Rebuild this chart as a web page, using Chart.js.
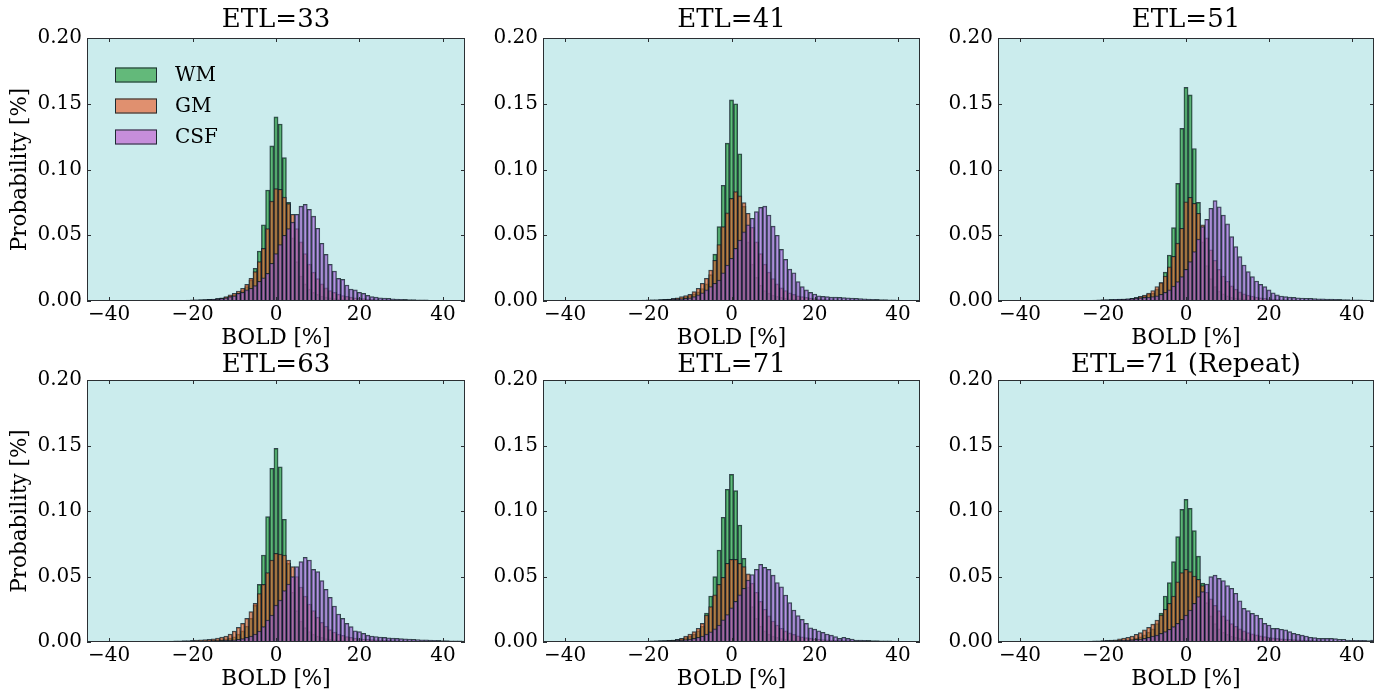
<!DOCTYPE html>
<html><head><meta charset="utf-8">
<script src="https://cdn.jsdelivr.net/npm/chart.js@4.4.1/dist/chart.umd.min.js"></script>
<style>
html,body{margin:0;padding:0;background:#fff;}
body{width:1384px;height:694px;position:relative;overflow:hidden;}
canvas{position:absolute;}
</style></head><body>
<canvas id="c0"></canvas><canvas id="c1"></canvas><canvas id="c2"></canvas>
<canvas id="c3"></canvas><canvas id="c4"></canvas><canvas id="c5"></canvas>
<script>
// Bin centres (BOLD %), width 1
const BINS = [-30,-29,-28,-27,-26,-25,-24,-23,-22,-21,
-20,-19,-18,-17,-16,-15,-14,-13,-12,-11,
-10,-9,-8,-7,-6,-5,-4,-3,-2,-1,
0,1,2,3,4,5,6,7,8,9,
10,11,12,13,14,15,16,17,18,19,
20,21,22,23,24,25,26,27,28,29,
30,31,32,33,34,35,36,37,38,39,
40,41,42,43,44,45];
const X_TICKS = [-40,-20,0,20,40];
const Y_TICKS = [0,0.05,0.10,0.15,0.20];
const SERIES_NAMES = ['WM','GM','CSF'];
const TITLES = ['ETL=33','ETL=41','ETL=51','ETL=63','ETL=71','ETL=71 (Repeat)'];

// ETL=33
const wm33 = [0,0,0,0,0,0.0002,0.0002,0.0003,0.0003,0.0004,
0.0005,0.0006,0.0007,0.0008,0.001,0.0012,0.0015,0.002,0.0027,0.0035,
0.0045,0.006,0.008,0.011,0.016,0.0249,0.038,0.058,0.0844,0.118,
0.140,0.1346,0.109,0.075,0.048,0.030,0.019,0.013,0.009,0.0065,
0.005,0.0038,0.003,0.0024,0.0019,0.0015,0.0012,0.001,0.0008,0.0007,
0.0006,0.0005,0.0004,0.0003,0.0003,0.0002,0.0002,0.0002,0.0001,0.0001,
0,0,0,0,0,0,0,0,0,0,
0,0,0,0,0,0];
const gm33 = [0,0,0,0,0.0002,0.0003,0.0003,0.0004,0.0005,0.0006,
0.0007,0.0008,0.0009,0.001,0.0012,0.0015,0.002,0.0025,0.0033,0.0046,
0.0058,0.0076,0.0097,0.0127,0.0172,0.0223,0.030,0.040,0.055,0.076,
0.0854,0.085,0.079,0.074,0.066,0.055,0.045,0.036,0.028,0.022,
0.017,0.013,0.010,0.008,0.0065,0.0052,0.0042,0.0035,0.003,0.0025,
0.0021,0.0018,0.0015,0.0013,0.0011,0.001,0.0009,0.0008,0.0007,0.0006,
0.0005,0.0004,0.0004,0.0003,0.0003,0.0002,0.0002,0.0001,0.0001,0.0001,
0,0,0,0,0,0];
const csf33 = [0,0,0,0,0.0002,0.0003,0.0004,0.0005,0.0006,0.0007,
0.0008,0.0009,0.001,0.0011,0.0012,0.0013,0.0015,0.002,0.0025,0.0033,
0.004,0.0058,0.0066,0.0084,0.0097,0.0117,0.015,0.0177,0.021,0.0287,
0.036,0.043,0.050,0.055,0.060,0.066,0.0722,0.0735,0.0697,0.0646,
0.0553,0.0439,0.0355,0.0279,0.0228,0.0172,0.0165,0.0122,0.0091,0.0084,
0.0066,0.0058,0.0043,0.0033,0.003,0.0025,0.0022,0.002,0.0017,0.0015,
0.0013,0.0012,0.001,0.001,0.0009,0.0008,0.0008,0.0005,0.0004,0.0003,
0.0002,0.0001,0.0001,0.0001,0,0];

// ETL=41
const wm41 = [0,0,0,0,0,0.0002,0.0002,0.0003,0.0003,0.0004,
0.0005,0.0006,0.0007,0.0008,0.001,0.0012,0.0015,0.002,0.0025,0.0033,
0.0042,0.0055,0.007,0.0095,0.013,0.020,0.0357,0.0565,0.088,0.120,
0.153,0.150,0.112,0.072,0.045,0.028,0.018,0.012,0.008,0.006,
0.0045,0.0035,0.0027,0.002,0.0016,0.0013,0.001,0.0008,0.0007,0.0006,
0.0005,0.0004,0.0003,0.0003,0.0002,0.0002,0.0001,0.0001,0.0001,0.0001,
0,0,0,0,0,0,0,0,0,0,
0,0,0,0,0,0];
const gm41 = [0,0,0,0,0.0002,0.0003,0.0003,0.0004,0.0005,0.0006,
0.0006,0.0008,0.0009,0.001,0.0012,0.0015,0.002,0.0025,0.0033,0.0042,
0.005,0.0071,0.0097,0.0135,0.0173,0.0236,0.031,0.043,0.0565,0.067,
0.078,0.0832,0.080,0.0748,0.0667,0.056,0.045,0.036,0.028,0.022,
0.017,0.013,0.010,0.008,0.0063,0.005,0.004,0.0033,0.0027,0.0022,
0.0018,0.0015,0.0013,0.0011,0.001,0.0009,0.0008,0.0007,0.0006,0.0005,
0.0004,0.0004,0.0003,0.0003,0.0002,0.0002,0.0002,0.0001,0.0001,0.0001,
0,0,0,0,0,0];
const csf41 = [0,0,0,0.0002,0.0003,0.0003,0.0004,0.0005,0.0006,0.0007,
0.0008,0.0009,0.0009,0.001,0.0011,0.0012,0.0013,0.0015,0.0017,0.002,
0.0025,0.0033,0.0046,0.0063,0.0084,0.011,0.0135,0.016,0.0215,0.0274,
0.0325,0.040,0.0464,0.0526,0.058,0.0629,0.068,0.0712,0.0722,0.0654,
0.057,0.050,0.0393,0.0317,0.0243,0.0215,0.0147,0.0109,0.0084,0.0066,
0.0053,0.004,0.0035,0.0033,0.003,0.003,0.0028,0.0026,0.0024,0.0022,
0.002,0.0018,0.0016,0.0015,0.0013,0.0012,0.001,0.001,0.0009,0.0008,
0.0007,0.0006,0.0005,0.0004,0.0003,0.0003];

// ETL=51
const wm51 = [0,0,0,0,0,0.0002,0.0002,0.0003,0.0003,0.0004,
0.0005,0.0006,0.0007,0.0008,0.001,0.0012,0.0014,0.0018,0.0023,0.003,
0.004,0.0052,0.006,0.009,0.014,0.022,0.035,0.0558,0.0895,0.1313,
0.1625,0.1567,0.116,0.075,0.045,0.027,0.017,0.011,0.0075,0.0055,
0.004,0.003,0.0023,0.0018,0.0014,0.0011,0.0009,0.0007,0.0006,0.0005,
0.0004,0.0003,0.0003,0.0002,0.0002,0.0001,0.0001,0.0001,0,0,
0,0,0,0,0,0,0,0,0,0,
0,0,0,0,0,0];
const gm51 = [0,0,0,0,0.0002,0.0003,0.0003,0.0004,0.0005,0.0006,
0.0007,0.0008,0.0009,0.001,0.0012,0.0014,0.0017,0.002,0.0027,0.0035,
0.0045,0.006,0.008,0.011,0.014,0.019,0.026,0.034,0.044,0.0553,
0.0755,0.0789,0.0743,0.0667,0.058,0.048,0.039,0.031,0.024,0.019,
0.015,0.0115,0.009,0.007,0.0055,0.0045,0.0037,0.003,0.0025,0.002,
0.0017,0.0015,0.0013,0.0011,0.001,0.0009,0.0008,0.0007,0.0006,0.0005,
0.0004,0.0004,0.0003,0.0003,0.0002,0.0002,0.0002,0.0001,0.0001,0.0001,
0,0,0,0,0,0];
const csf51 = [0,0,0,0.0002,0.0003,0.0004,0.0005,0.0006,0.0007,0.0008,
0.001,0.0011,0.0012,0.0013,0.0014,0.0015,0.0017,0.0019,0.0022,0.0025,
0.0028,0.003,0.0034,0.004,0.0051,0.0066,0.0084,0.0114,0.0147,0.0185,
0.024,0.030,0.0375,0.047,0.0565,0.0621,0.0705,0.0763,0.0717,0.0654,
0.0586,0.0489,0.0413,0.0337,0.0274,0.0223,0.0185,0.0152,0.0127,0.0109,
0.0084,0.0063,0.0046,0.0038,0.0033,0.003,0.0027,0.0025,0.0023,0.0021,
0.002,0.0018,0.0017,0.0016,0.0015,0.0014,0.0013,0.0012,0.0011,0.001,
0.0009,0.0008,0.0008,0.0007,0.0006,0.0005];

// ETL=63
const wm63 = [0,0,0,0,0.0002,0.0002,0.0003,0.0003,0.0004,0.0005,
0.0006,0.0007,0.0008,0.0009,0.001,0.0012,0.0015,0.0019,0.0024,0.003,
0.004,0.006,0.0085,0.012,0.018,0.028,0.044,0.0664,0.0957,0.1326,
0.1478,0.1338,0.0937,0.060,0.038,0.024,0.016,0.011,0.008,0.006,
0.0045,0.0035,0.0027,0.002,0.0016,0.0013,0.001,0.0008,0.0007,0.0006,
0.0005,0.0004,0.0003,0.0003,0.0002,0.0002,0.0001,0.0001,0.0001,0.0001,
0,0,0,0,0,0,0,0,0,0,
0,0,0,0,0,0];
const gm63 = [0.0002,0.0003,0.0004,0.0005,0.0006,0.0007,0.0008,0.0009,0.001,0.0011,
0.0012,0.0014,0.0016,0.0018,0.002,0.0024,0.0029,0.0037,0.0046,0.0061,
0.0084,0.0112,0.0142,0.018,0.0232,0.0295,0.037,0.044,0.0529,0.0626,
0.0677,0.0672,0.0664,0.0626,0.0575,0.050,0.042,0.035,0.029,0.024,
0.019,0.015,0.012,0.0095,0.0076,0.006,0.005,0.0042,0.0036,0.003,
0.0026,0.0023,0.002,0.0018,0.0016,0.0014,0.0013,0.0012,0.0011,0.001,
0.0009,0.0008,0.0007,0.0007,0.0006,0.0005,0.0005,0.0004,0.0004,0.0003,
0.0003,0.0002,0.0002,0.0002,0.0001,0.0001];
const csf63 = [0,0,0.0002,0.0002,0.0003,0.0003,0.0004,0.0004,0.0005,0.0005,
0.0006,0.0007,0.0007,0.0008,0.0009,0.001,0.0011,0.0012,0.0013,0.0014,
0.0016,0.002,0.0026,0.0036,0.0046,0.0061,0.0084,0.0117,0.0168,0.0206,
0.0282,0.032,0.0392,0.0443,0.0499,0.0575,0.0613,0.0646,0.0626,0.0555,
0.0537,0.0468,0.0402,0.0341,0.0275,0.0214,0.018,0.0142,0.0117,0.0086,
0.0079,0.0066,0.0053,0.0046,0.0042,0.0038,0.0035,0.0032,0.003,0.0028,
0.0026,0.0024,0.0022,0.002,0.0019,0.0017,0.0016,0.0015,0.0013,0.0012,
0.0011,0.001,0.0009,0.0008,0.0008,0.0007];

// ETL=71
const wm71 = [0,0,0,0,0.0002,0.0002,0.0003,0.0003,0.0004,0.0005,
0.0006,0.0007,0.0008,0.0009,0.001,0.0012,0.0015,0.0019,0.0025,0.0033,
0.0045,0.006,0.0085,0.012,0.022,0.0351,0.0499,0.0702,0.0952,0.1166,
0.128,0.1155,0.0893,0.0639,0.042,0.027,0.018,0.012,0.0085,0.006,
0.0045,0.0035,0.0027,0.002,0.0016,0.0013,0.001,0.0008,0.0007,0.0006,
0.0005,0.0004,0.0003,0.0003,0.0002,0.0002,0.0001,0.0001,0.0001,0.0001,
0,0,0,0,0,0,0,0,0,0,
0,0,0,0,0,0];
const gm71 = [0.0002,0.0002,0.0003,0.0003,0.0004,0.0004,0.0005,0.0005,0.0006,0.0006,
0.0007,0.0008,0.0009,0.001,0.0011,0.0013,0.0015,0.002,0.0028,0.0046,
0.0061,0.0079,0.0105,0.0142,0.0206,0.027,0.036,0.044,0.0494,0.0601,
0.0631,0.0631,0.060,0.0575,0.052,0.045,0.038,0.031,0.025,0.020,
0.016,0.013,0.0105,0.0085,0.007,0.0058,0.0048,0.004,0.0034,0.0029,
0.0025,0.0022,0.0019,0.0017,0.0015,0.0013,0.0012,0.0011,0.001,0.0009,
0.0008,0.0007,0.0007,0.0006,0.0005,0.0005,0.0004,0.0004,0.0003,0.0003,
0.0003,0.0002,0.0002,0.0002,0.0001,0.0001];
const csf71 = [0,0,0.0002,0.0002,0.0003,0.0003,0.0004,0.0004,0.0005,0.0005,
0.0005,0.0006,0.0007,0.0008,0.0009,0.001,0.0011,0.0013,0.0015,0.0018,
0.0022,0.0028,0.0036,0.0046,0.006,0.0078,0.010,0.013,0.017,0.021,
0.026,0.031,0.036,0.041,0.0473,0.0515,0.0555,0.0593,0.057,0.0555,
0.0511,0.0453,0.0422,0.0359,0.030,0.0244,0.0201,0.0173,0.0142,0.0109,
0.0099,0.0086,0.0074,0.0061,0.0053,0.0041,0.0028,0.0036,0.0028,0.0023,
0.0015,0.0015,0.0013,0.0012,0.0011,0.001,0.0009,0.0008,0.0008,0.0007,
0.0006,0.0006,0.0005,0.0004,0.0004,0.0003];

// ETL=71 (Repeat)
const wm71r = [0,0,0,0.0002,0.0002,0.0003,0.0003,0.0004,0.0005,0.0006,
0.0007,0.0008,0.0009,0.001,0.0012,0.0014,0.0017,0.0021,0.003,0.004,
0.0055,0.0075,0.010,0.014,0.022,0.0351,0.0453,0.0613,0.0804,0.1013,
0.1089,0.102,0.085,0.0656,0.045,0.030,0.020,0.014,0.010,0.0075,
0.0058,0.0045,0.0035,0.0028,0.0022,0.0018,0.0015,0.0012,0.001,0.0008,
0.0007,0.0006,0.0005,0.0004,0.0003,0.0003,0.0002,0.0002,0.0001,0.0001,
0,0,0,0,0,0,0,0,0,0,
0,0,0,0,0,0];
const gm71r = [0.0002,0.0002,0.0003,0.0003,0.0004,0.0005,0.0006,0.0007,0.0008,0.0009,
0.001,0.0012,0.0014,0.0017,0.0025,0.003,0.0036,0.0046,0.0059,0.0071,
0.0092,0.0112,0.0137,0.0168,0.0206,0.025,0.0295,0.0351,0.046,0.0529,
0.0555,0.0537,0.0504,0.0478,0.043,0.038,0.033,0.028,0.024,0.020,
0.017,0.014,0.012,0.010,0.0085,0.0072,0.0062,0.0054,0.0047,0.0041,
0.0036,0.0032,0.0028,0.0025,0.0022,0.002,0.0018,0.0016,0.0014,0.0013,
0.0012,0.0011,0.001,0.0009,0.0008,0.0007,0.0007,0.0006,0.0005,0.0005,
0.0004,0.0004,0.0003,0.0003,0.0002,0.0002];
const csf71r = [0,0.0002,0.0002,0.0003,0.0003,0.0004,0.0004,0.0005,0.0006,0.0007,
0.0008,0.0009,0.001,0.0011,0.0012,0.0013,0.0015,0.0017,0.002,0.0023,
0.0028,0.0036,0.0046,0.0053,0.0066,0.0079,0.0097,0.0117,0.0142,0.0173,
0.0206,0.0244,0.0295,0.0346,0.0384,0.0443,0.0499,0.0511,0.0486,0.0468,
0.043,0.041,0.0372,0.0315,0.0257,0.0239,0.0219,0.0206,0.0181,0.0142,
0.013,0.0104,0.0104,0.0097,0.0092,0.0079,0.0066,0.0059,0.0053,0.0046,
0.0036,0.0033,0.0028,0.0028,0.0028,0.0028,0.0026,0.0021,0.0021,0.0015,
0.0013,0.0013,0.0013,0.0013,0.0011,0.0015];

const PANEL_DATA = [
  [wm33, gm33, csf33], [wm41, gm41, csf41], [wm51, gm51, csf51],
  [wm63, gm63, csf63], [wm71, gm71, csf71], [wm71r, gm71r, csf71r]
];

// ---- styling ----
const FONT = "'DejaVu Serif', 'Liberation Serif', serif";
const AX_BG = 'rgb(203,236,237)';
const FILLS = ['rgba(29,151,52,0.6)', 'rgba(226,100,45,0.6)', 'rgba(160,96,212,0.6)'];
const LEGEND_FILLS = ['rgb(99,185,122)', 'rgb(224,144,111)', 'rgb(198,142,219)'];
const EDGE = 'rgba(12,28,36,0.8)';
const FRAME = '#2a2f33';

const LAYOUT = [
  {left:0,   top:0,   w:470, h:350, yBox:87, padR:5},
  {left:470, top:0,   w:455, h:350, yBox:73, padR:5},
  {left:925, top:0,   w:459, h:350, yBox:73, padR:10},
  {left:0,   top:350, w:470, h:344, yBox:87, padR:5},
  {left:470, top:350, w:455, h:344, yBox:73, padR:5},
  {left:925, top:350, w:459, h:344, yBox:73, padR:10}
];
const ROW = [
  {padTop:38, titleY:20, xBox:49, xTitleBottom:1},
  {padTop:30, titleY:15, xBox:52, xTitleBottom:4}
];

const framePlugin = {
  id: 'frame',
  beforeDatasetsDraw(chart) {
    const {ctx, chartArea:a} = chart;
    ctx.save(); ctx.fillStyle = AX_BG;
    ctx.fillRect(a.left, a.top, a.right - a.left, a.bottom - a.top);
    ctx.restore();
  },
  afterDatasetsDraw(chart) {
    const {ctx, chartArea:a, scales} = chart;
    ctx.save();
    ctx.strokeStyle = FRAME; ctx.lineWidth = 1;
    ctx.strokeRect(a.left + 0.5, a.top + 0.5, a.right - a.left - 1, a.bottom - a.top - 1);
    const L = 4;
    ctx.beginPath();
    X_TICKS.forEach(v => {
      const x = Math.round(scales.x.getPixelForValue(v)) + 0.5;
      ctx.moveTo(x, a.bottom); ctx.lineTo(x, a.bottom - L);
      ctx.moveTo(x, a.top); ctx.lineTo(x, a.top + L);
    });
    Y_TICKS.forEach(v => {
      const y = Math.round(scales.y.getPixelForValue(v)) + 0.5;
      ctx.moveTo(a.left, y); ctx.lineTo(a.left + L, y);
      ctx.moveTo(a.right, y); ctx.lineTo(a.right - L, y);
    });
    ctx.stroke();
    ctx.restore();
  }
};

// panel title centred over the plot area
const panelTitlePlugin = {
  id: 'ptitle',
  afterDraw(chart, args, opts) {
    const {ctx, chartArea:a} = chart;
    ctx.save();
    ctx.font = "26px " + FONT;
    ctx.fillStyle = '#000';
    ctx.textAlign = 'center';
    ctx.textBaseline = 'middle';
    ctx.fillText(opts.text, (a.left + a.right) / 2, opts.y);
    ctx.restore();
  }
};

const legendPlugin = {
  id: 'inlegend',
  afterDatasetsDraw(chart, args, opts) {
    if (!opts || !opts.show) return;
    const {ctx} = chart;
    ctx.save();
    ctx.font = "20px " + FONT;
    ctx.textBaseline = 'middle';
    SERIES_NAMES.forEach((name, i) => {
      const y = 67.5 + i * 31;
      ctx.fillStyle = LEGEND_FILLS[i];
      ctx.fillRect(115, y, 42, 15);
      ctx.strokeStyle = '#1c2a30'; ctx.lineWidth = 1;
      ctx.strokeRect(115.5, y + 0.5, 41, 14);
      ctx.fillStyle = '#000';
      ctx.fillText(name, 175, y + 8);
    });
    ctx.restore();
  }
};

function fmtX(v) { return v < 0 ? '\u2212' + Math.abs(v) : String(v); }

PANEL_DATA.forEach((series, p) => {
  const lay = LAYOUT[p];
  const row = ROW[p < 3 ? 0 : 1];
  const cv = document.getElementById('c' + p);
  cv.width = lay.w; cv.height = lay.h;
  cv.style.left = lay.left + 'px'; cv.style.top = lay.top + 'px';
  cv.style.width = lay.w + 'px'; cv.style.height = lay.h + 'px';
  const datasets = series.map((arr, s) => ({
    label: SERIES_NAMES[s],
    data: BINS.map((b, i) => ({x: b, y: arr[i]})),
    backgroundColor: FILLS[s],
    borderColor: EDGE,
    borderWidth: 1,
    borderSkipped: 'start',
    barPercentage: 1,
    categoryPercentage: 1,
    grouped: false,
    order: 3 - s
  }));
  const showYTitle = (p % 3 === 0);
  new Chart(cv, {
    type: 'bar',
    data: {datasets},
    options: {
      responsive: false,
      animation: false,
      devicePixelRatio: 1,
      events: [],
      layout: {padding: {left: 0, right: lay.padR, top: row.padTop, bottom: 0}},
      plugins: {
        legend: {display: false},
        tooltip: {enabled: false},
        title: {display: false},
        ptitle: {text: TITLES[p], y: row.titleY},
        inlegend: {show: p === 0}
      },
      scales: {
        x: {
          type: 'linear', min: -45.3, max: 45.3, offset: false,
          grid: {display: false, drawTicks: false}, border: {display: false},
          afterBuildTicks: s => { s.ticks = X_TICKS.map(v => ({value: v})); },
          afterFit: s => { s.height = row.xBox; },
          ticks: {color: '#000', font: {family: FONT, size: 20}, padding: 2,
                  maxRotation: 0, autoSkip: false, callback: v => fmtX(v)},
          title: {display: true, text: 'BOLD [%]', color: '#000',
                  font: {family: FONT, size: 21.5, lineHeight: 1},
                  padding: {top: 0, bottom: row.xTitleBottom}}
        },
        y: {
          type: 'linear', min: 0, max: 0.2,
          grid: {display: false, drawTicks: false}, border: {display: false},
          afterBuildTicks: s => { s.ticks = Y_TICKS.map(v => ({value: v})); },
          afterFit: s => { s.width = lay.yBox; },
          ticks: {color: '#000', font: {family: FONT, size: 20}, padding: 5,
                  autoSkip: false, callback: v => Number(v).toFixed(2)},
          title: {display: showYTitle, text: 'Probability [%]', color: '#000',
                  font: {family: FONT, size: 21.5, lineHeight: 1.2},
                  padding: {top: 8, bottom: 0}}
        }
      }
    },
    plugins: [framePlugin, legendPlugin, panelTitlePlugin]
  });
});
</script>
</body></html>
